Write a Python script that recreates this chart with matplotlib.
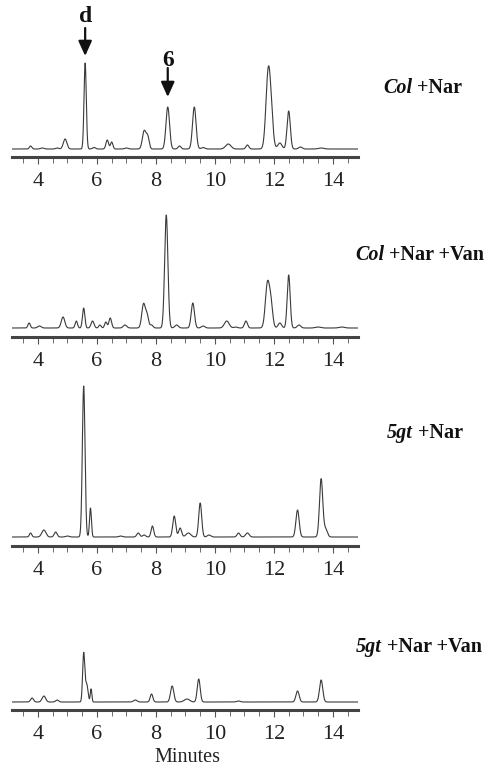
import matplotlib
matplotlib.use("Agg")
import matplotlib.pyplot as plt
import numpy as np

plt.rcParams['font.family'] = ['Liberation Serif', 'DejaVu Serif']

# peak tables: retention time (min), height, width (min)
col_nar_t = [3.75, 4.15, 4.65, 4.92, 5.6, 5.9, 6.35, 6.5, 7.0, 7.6, 7.72, 8.4, 8.8, 9.3, 9.6, 10.45, 11.1, 11.8, 11.9, 12.2, 12.5, 12.9, 13.6]
col_nar_h = [3, 1, 1, 10, 86, 1.5, 9, 7, 1, 18, 12, 42, 3, 42, 1.5, 5, 4, 70, 30, 6, 38, 2, 1]
col_nar_w = [0.04, 0.06, 0.05, 0.06, 0.038, 0.05, 0.045, 0.04, 0.06, 0.06, 0.05, 0.06, 0.05, 0.06, 0.06, 0.09, 0.05, 0.075, 0.07, 0.07, 0.055, 0.06, 0.09]

col_van_t = [3.7, 4.05, 4.85, 5.3, 5.55, 5.85, 6.1, 6.3, 6.45, 6.95, 7.58, 7.7, 7.85, 8.35, 8.7, 9.25, 9.6, 10.4, 10.7, 11.05, 11.78, 11.9, 12.2, 12.5, 12.85, 13.5, 14.3]
col_van_h = [5, 2, 11, 7, 20, 7, 3, 6, 10, 3, 24, 12, 3, 113, 3, 25, 2, 7, 1, 7, 44, 22, 5, 53, 3, 1, 1]
col_van_w = [0.04, 0.06, 0.06, 0.04, 0.04, 0.05, 0.04, 0.04, 0.045, 0.06, 0.06, 0.05, 0.05, 0.055, 0.06, 0.055, 0.06, 0.08, 0.06, 0.05, 0.07, 0.06, 0.06, 0.05, 0.06, 0.09, 0.09]

gt_nar_t = [3.75, 4.2, 4.6, 5.0, 5.55, 5.78, 6.8, 7.4, 7.6, 7.88, 8.62, 8.82, 9.1, 9.5, 9.8, 10.8, 11.1, 12.8, 13.6, 13.75]
gt_nar_h = [4, 7, 5, 1, 151, 29, 1, 4, 2, 11, 21, 9, 4, 34, 2, 4, 4, 27, 58, 8]
gt_nar_w = [0.04, 0.07, 0.05, 0.06, 0.045, 0.032, 0.06, 0.05, 0.05, 0.045, 0.05, 0.05, 0.08, 0.05, 0.06, 0.05, 0.06, 0.055, 0.055, 0.06]

gt_van_t = [3.8, 4.2, 4.65, 5.55, 5.65, 5.8, 7.3, 7.85, 8.55, 9.05, 9.45, 10.8, 12.8, 13.6]
gt_van_h = [4, 6, 2, 48, 18, 13, 2, 8, 16, 3, 23, 1, 11, 22]
gt_van_w = [0.05, 0.06, 0.05, 0.036, 0.045, 0.026, 0.06, 0.045, 0.055, 0.09, 0.05, 0.06, 0.055, 0.055]

panels = [(col_nar_t, col_nar_h, col_nar_w),
          (col_van_t, col_van_h, col_van_w),
          (gt_nar_t, gt_nar_h, gt_nar_w),
          (gt_van_t, gt_van_h, gt_van_w)]
labels = [("Col", " +Nar"), ("Col", " +Nar +Van"), ("5gt", " +Nar"), ("5gt", " +Nar +Van")]

W, H = 493, 768
# pixel layout: axis line y, baseline y, top y, label x, label y
axis_y = [157, 337, 546, 710]
base_y = [149, 328, 537, 702]
top_y = [0, 190, 375, 600]
lab_x = [383, 355, 387, 356]
lab_y = [88, 255, 433, 647]

fig = plt.figure(figsize=(W / 100, H / 100), dpi=100)
t = np.linspace(3.12, 14.85, 4000)

axes = []
for i, (pt, ph, pw) in enumerate(panels):
    ax = fig.add_axes([12 / W, 1 - axis_y[i] / H, (358 - 12) / W, (axis_y[i] - top_y[i]) / H])
    y = np.zeros_like(t)
    for c, h, w in zip(pt, ph, pw):
        y += h * np.exp(-0.5 * ((t - c) / w) ** 2)
    ax.plot(t, y, color='#3a3a3a', lw=0.8)
    ax.set_xlim(3.12, 14.85)
    ax.set_ylim(-(axis_y[i] - base_y[i]), base_y[i] - top_y[i])
    for s in ['top', 'right', 'left']:
        ax.spines[s].set_visible(False)
    ax.spines['bottom'].set_linewidth(2.2)
    ax.spines['bottom'].set_color('#444444')
    ax.set_yticks([])
    ax.set_xticks([4, 6, 8, 10, 12, 14])
    ax.set_xticks(np.arange(3.5, 15, 0.5), minor=True)
    ax.tick_params(axis='x', which='major', length=5, width=0.8, color='#555555',
                   labelsize=16, pad=6, labelcolor='#222222')
    ax.tick_params(axis='x', which='minor', length=4, width=0.6, color='#555555')
    ax.patch.set_alpha(0)
    axes.append(ax)

fig.text(187 / W, 1 - 767.5 / H, "Minutes", ha='center', va='bottom', fontsize=14.5, color='#222222')

# arrows for peaks d and 6 in the first panel
ax0 = axes[0]
for xt, txt, ty, y0, y1 in [(5.6, "d", 17, 28, 56), (8.4, "6", 60, 68, 97)]:
    ax0.annotate("", xy=(xt, base_y[0] - y1), xytext=(xt, base_y[0] - y0),
                 arrowprops=dict(arrowstyle='-|>,head_width=0.45,head_length=1.0', lw=1.6,
                                 color='#111111', shrinkA=0, shrinkB=0, mutation_scale=9),
                 annotation_clip=False)
    ax0.text(xt, base_y[0] - ty, txt, ha='center', va='center', fontsize=17,
             fontweight='bold', color='#111111', clip_on=False)

fig.canvas.draw()
renderer = fig.canvas.get_renderer()
for i, (a, b) in enumerate(labels):
    t1 = fig.text(lab_x[i] / W, 1 - lab_y[i] / H, a, ha='left', va='center', fontsize=14.5,
                  fontweight='bold', fontstyle='italic', color='#111111')
    ext = t1.get_window_extent(renderer)
    fig.text(ext.x1 / W, 1 - lab_y[i] / H, b, ha='left', va='center', fontsize=14.5,
             fontweight='bold', color='#111111')

fig.savefig("out.png", dpi=100)
